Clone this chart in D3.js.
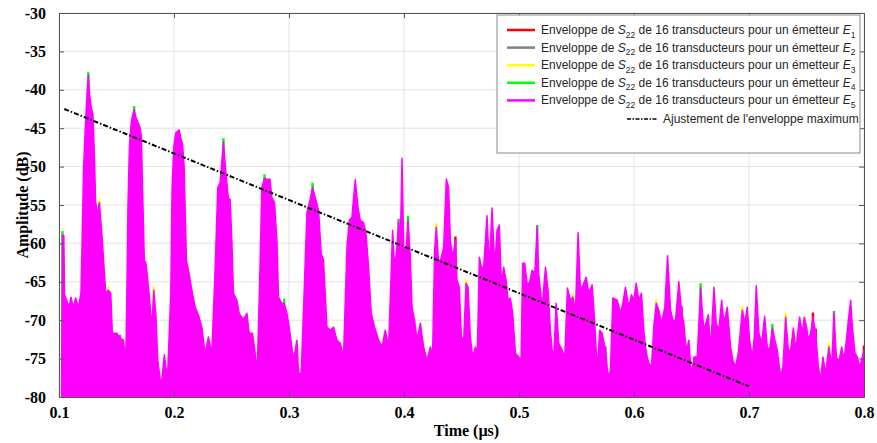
<!DOCTYPE html>
<html><head><meta charset="utf-8">
<script src="https://cdn.jsdelivr.net/npm/d3@7"></script>
<style>body{margin:0;background:#fff}svg{display:block}</style>
</head><body><svg id="c" width="877" height="443"></svg>
<script>
// ---- data ----
const xTicks = [0.1,0.2,0.3,0.4,0.5,0.6,0.7,0.8];
const yTicks = [-80,-75,-70,-65,-60,-55,-50,-45,-40,-35,-30];
// Enveloppe E5 (magenta): [time µs, dB]
const envE5 = [
[0.1022,-80],[0.1030,-58.9],[0.1042,-59.0],[0.1048,-66.7],[0.1067,-67.4],[0.1087,-68.3],[0.1104,-67.0],[0.1124,-68.3],[0.1145,-67.1],[0.1168,-68.3],
[0.1191,-66.5],[0.1200,-60.5],[0.1213,-50.5],[0.1230,-44.5],[0.1245,-40.2],[0.1255,-38.1],[0.1266,-40.6],[0.1280,-42.3],[0.1295,-43.2],[0.1308,-48.5],
[0.1318,-54.5],[0.1332,-56.2],[0.1351,-54.7],[0.1372,-58.6],[0.1386,-61.8],[0.1406,-66.5],[0.1429,-66.1],[0.1450,-66.5],[0.1464,-71.7],[0.1502,-71.7],
[0.1531,-72.3],[0.1560,-72.6],[0.1581,-75.2],[0.1590,-66.5],[0.1600,-55.0],[0.1612,-47.5],[0.1628,-44.3],[0.1642,-43.2],[0.1653,-42.6],[0.1668,-43.5],
[0.1685,-44.2],[0.1703,-44.8],[0.1716,-46.0],[0.1730,-55.0],[0.1742,-62.2],[0.1755,-62.5],[0.1766,-63.9],
[0.1786,-67.0],[0.1807,-70.9],[0.1824,-66.1],[0.1842,-69.1],[0.1859,-75.2],[0.1888,-78.7],[0.1916,-74.5],[0.1943,-77.8],
[0.1972,-66.5],[0.1983,-53.0],[0.1998,-47.5],[0.2015,-45.6],[0.2032,-45.4],[0.2044,-45.2],[0.2058,-46.2],[0.2075,-47.2],[0.2088,-50.0],[0.2098,-56.0],
[0.2108,-62.2],[0.2131,-63.9],[0.2160,-66.5],[0.2184,-68.3],[0.2218,-69.6],[0.2242,-70.9],
[0.2271,-74.3],[0.2299,-72.2],[0.2329,-74.3],[0.2358,-63.1],[0.2381,-52.7],[0.2401,-52.1],[0.2418,-49.0],[0.2430,-46.8],[0.2451,-50.8],[0.2473,-54.1],[0.2488,-54.3],
[0.2503,-59.6],[0.2517,-66.5],[0.2547,-67.4],[0.2567,-69.1],[0.2604,-70.0],[0.2634,-69.1],[0.2654,-71.7],[0.2682,-71.7],[0.2700,-73.5],[0.2723,-76.9],
[0.2743,-66.1],[0.2764,-52.7],[0.2787,-51.5],[0.2813,-51.7],[0.2834,-51.6],[0.2851,-54.0],[0.2874,-54.7],[0.2895,-59.6],[0.2909,-67.0],[0.2938,-67.8],
[0.2958,-67.8],[0.2982,-69.1],[0.3002,-70.9],[0.3039,-75.2],[0.3069,-72.6],[0.3083,-76.9],[0.3106,-76.9],[0.3126,-68.7],[0.3156,-56.0],[0.3184,-54.3],
[0.3205,-52.7],[0.3228,-54.0],[0.3257,-55.7],[0.3280,-61.3],[0.3300,-62.2],[0.3330,-70.9],[0.3359,-71.3],[0.3387,-70.9],[0.3417,-72.6],[0.3446,-73.0],
[0.3474,-74.8],[0.3504,-60.5],[0.3524,-57.0],[0.3547,-56.6],[0.3576,-51.7],[0.3600,-55.3],[0.3620,-57.0],[0.3648,-57.3],[0.3669,-58.6],[0.3692,-63.1],
[0.3715,-69.1],[0.3744,-70.9],[0.3779,-72.6],[0.3808,-73.5],[0.3837,-71.3],[0.3866,-73.5],[0.3881,-67.0],[0.3901,-58.3],[0.3918,-63.1],[0.3936,-60.9],
[0.3953,-57.3],[0.3968,-59.9],[0.3983,-48.9],[0.3997,-60.5],[0.4017,-60.9],[0.4035,-57.0],[0.4055,-61.8],[0.4070,-68.3],[0.4092,-70.0],[0.4113,-72.6],
[0.4142,-70.4],[0.4171,-73.5],[0.4200,-75.2],[0.4229,-73.5],[0.4249,-74.3],[0.4266,-60.9],[0.4281,-57.9],[0.4301,-62.6],[0.4325,-61.8],[0.4345,-60.5],
[0.4368,-51.6],[0.4388,-52.7],[0.4403,-59.6],[0.4423,-61.8],[0.4447,-59.6],[0.4461,-64.8],[0.4481,-65.7],[0.4499,-72.2],[0.4519,-72.6],[0.4540,-65.2],
[0.4557,-65.7],[0.4577,-72.2],[0.4597,-74.8],[0.4621,-73.5],[0.4638,-74.3],[0.4655,-61.8],[0.4673,-63.1],[0.4693,-63.1],[0.4722,-56.4],[0.4742,-63.1],
[0.4766,-55.4],[0.4789,-63.1],[0.4809,-58.3],[0.4829,-57.6],[0.4847,-65.2],[0.4867,-63.1],[0.4888,-64.8],[0.4905,-67.4],[0.4925,-67.1],[0.4945,-69.1],
[0.4969,-74.3],[0.4997,-74.8],[0.5018,-75.2],[0.5032,-62.6],[0.5050,-62.6],[0.5070,-65.2],[0.5090,-65.2],[0.5114,-63.5],[0.5137,-63.9],[0.5158,-58.1],
[0.5171,-63.9],[0.5201,-68.3],[0.5230,-63.1],[0.5253,-66.1],[0.5273,-71.3],[0.5288,-73.9],[0.5302,-74.8],[0.5323,-67.8],[0.5346,-73.0],[0.5375,-73.9],
[0.5398,-74.8],[0.5421,-65.8],[0.5447,-67.4],[0.5467,-67.0],[0.5491,-68.7],[0.5514,-58.6],[0.5534,-66.1],[0.5558,-65.4],[0.5584,-64.4],[0.5607,-66.5],
[0.5636,-65.4],[0.5659,-70.4],[0.5680,-76.5],[0.5702,-71.3],[0.5723,-71.7],[0.5752,-73.9],[0.5775,-77.4],[0.5795,-76.5],[0.5816,-67.1],[0.5854,-67.4],
[0.5883,-69.1],[0.5903,-67.8],[0.5926,-65.7],[0.5955,-68.3],[0.5978,-66.7],[0.5998,-67.4],[0.6019,-65.2],[0.6042,-67.4],[0.6065,-66.5],[0.6085,-71.3],
[0.6106,-74.3],[0.6129,-75.6],[0.6152,-76.1],[0.6172,-70.9],[0.6193,-67.8],[0.6216,-68.7],[0.6239,-70.4],[0.6268,-68.3],[0.6292,-61.6],[0.6318,-68.7],
[0.6338,-70.0],[0.6361,-70.0],[0.6390,-65.0],[0.6413,-68.7],[0.6433,-70.4],[0.6454,-73.9],[0.6477,-72.6],[0.6500,-77.4],[0.6520,-74.8],[0.6550,-74.8],
[0.6579,-65.8],[0.6607,-71.3],[0.6646,-69.3],[0.6666,-73.9],[0.6695,-65.7],[0.6715,-70.4],[0.6738,-71.3],[0.6762,-67.4],[0.6782,-70.4],[0.6811,-68.3],
[0.6840,-73.5],[0.6860,-75.2],[0.6883,-76.1],[0.6907,-74.3],[0.6942,-68.7],[0.6964,-70.4],[0.6985,-68.3],[0.7005,-72.6],[0.7029,-74.8],[0.7046,-72.2],
[0.7063,-65.5],[0.7086,-71.7],[0.7110,-73.0],[0.7136,-69.5],[0.7159,-73.5],[0.7179,-73.9],[0.7203,-71.0],[0.7225,-72.6],[0.7246,-73.9],[0.7275,-77.4],
[0.7295,-76.1],[0.7319,-69.6],[0.7342,-73.9],[0.7362,-73.9],[0.7386,-71.0],[0.7406,-73.9],[0.7440,-69.6],[0.7464,-71.7],[0.7481,-69.6],[0.7501,-70.9],
[0.7516,-72.6],[0.7536,-71.7],[0.7556,-69.6],[0.7580,-71.7],[0.7603,-76.1],[0.7623,-77.8],[0.7643,-74.8],[0.7667,-76.9],[0.7695,-73.5],[0.7719,-76.1],
[0.7739,-69.3],[0.7760,-74.8],[0.7782,-75.4],[0.7806,-73.5],[0.7826,-75.2],[0.7847,-72.6],[0.7864,-70.0],[0.7884,-67.4],[0.7899,-70.9],[0.7922,-74.3],
[0.7942,-74.8],[0.7962,-76.1],[0.7986,-74.8],[0.8000,-73.9]
];
// Peaks of the other emitters that rise above E5: [time µs, dB]
const peaksE1 = [[0.4447,-59.1],[0.6413,-68.2],[0.7556,-69.0],[0.7580,-71.1],[0.8000,-73.3],[0.1888,-78.2]];
const peaksE2 = [[0.3953,-56.8],[0.5158,-57.6],[0.5752,-73.4],[0.7739,-68.8],[0.1531,-71.9]];
const peaksE3 = [[0.1351,-54.2],[0.1429,-65.6],[0.1824,-65.6],[0.4281,-57.4],[0.4540,-64.7],[0.5467,-66.5],[0.6193,-67.3],[0.6942,-68.2],[0.7319,-69.1],[0.7695,-73.0]];
const peaksE4 = [[0.1030,-58.4],[0.1255,-37.7],[0.1653,-42.1],[0.2430,-46.3],[0.2787,-51.0],[0.3205,-52.1],[0.4035,-56.4],[0.2958,-67.2],[0.6579,-65.2],[0.7203,-70.5],[0.1124,-67.8],[0.6106,-73.8],[0.2604,-69.5]];
// Fit of the maximum envelope
const fitLine = [[0.1046,-42.5],[0.6999,-78.6]];

const seriesColors = ["#ff0000","#808080","#ffff00","#00ff00","#ff00ff"];
const emitterIdx = ["1","2","3","4","5"];
const fitLabel = "Ajustement de l'enveloppe maximum";
const xLabel = "Time (\u00b5s)";
const yLabel = "Amplitude (dB)";

// ---- chart ----
const svg = d3.select("#c");
const L = 59, R = 864, T = 13, B = 397;
const x = d3.scaleLinear().domain([0.1,0.8]).range([L,R]);
const y = d3.scaleLinear().domain([-80,-30]).range([B,T]);

svg.append("defs").append("clipPath").attr("id","clip")
  .append("rect").attr("x",L).attr("y",T).attr("width",R-L).attr("height",B-T);

// grid
const grid = svg.append("g").attr("stroke","#e3e3e3").attr("stroke-width",1);
xTicks.forEach(v=>grid.append("line").attr("x1",x(v)).attr("x2",x(v)).attr("y1",T).attr("y2",B));
yTicks.forEach(v=>grid.append("line").attr("y1",y(v)).attr("y2",y(v)).attr("x1",L).attr("x2",R));

const plot = svg.append("g").attr("clip-path","url(#clip)");

// other emitters (underneath)
[[peaksE1,0],[peaksE2,1],[peaksE3,2],[peaksE4,3]].forEach(([arr,i])=>{
  plot.append("g").selectAll("line").data(arr).join("line")
    .attr("x1",d=>x(d[0])).attr("x2",d=>x(d[0]))
    .attr("y1",d=>y(d[1])).attr("y2",y(-80))
    .attr("stroke",seriesColors[i]).attr("stroke-width",2.5);
});

// E5 envelope
const area = d3.area().x(d=>x(d[0])).y0(y(-80)).y1(d=>y(d[1]));
const line = d3.line().x(d=>x(d[0])).y(d=>y(d[1]));
plot.append("path").datum(envE5).attr("d",area).attr("fill","#ff00ff");
plot.append("path").datum(envE5).attr("d",line).attr("fill","none")
  .attr("stroke","#ff00ff").attr("stroke-width",1.5).attr("stroke-linejoin","round");

// fit
plot.append("path").datum(fitLine).attr("d",line).attr("fill","none")
  .attr("stroke","#000").attr("stroke-width",2).attr("stroke-dasharray","5,2,1.5,2");

// axes box
const axC = "#555";
const ax = svg.append("g");
const xa = ax.append("g").attr("transform",`translate(0,${B})`)
  .call(d3.axisBottom(x).tickValues(xTicks).tickFormat(d3.format(".1f")).tickSize(-5).tickPadding(7));
const ya = ax.append("g").attr("transform",`translate(${L},0)`)
  .call(d3.axisLeft(y).tickValues(yTicks).tickFormat(d=>d).tickSize(-5).tickPadding(13));
ax.append("g").attr("transform",`translate(0,${T})`)
  .call(d3.axisTop(x).tickValues(xTicks).tickFormat("").tickSize(-5));
ax.append("g").attr("transform",`translate(${R},0)`)
  .call(d3.axisRight(y).tickValues(yTicks).tickFormat("").tickSize(-5));
ax.selectAll(".domain").attr("stroke",axC);
ax.selectAll(".tick line").attr("stroke",axC);
ax.selectAll(".tick text").attr("fill","#000")
  .style("font-family","'Liberation Serif','Times New Roman',serif").style("font-weight","bold").style("font-size","16px");
xa.selectAll(".tick text").attr("dy","0.9em");

svg.append("text").attr("x",(L+R)/2+5).attr("y",436).attr("text-anchor","middle")
  .style("font-family","'Liberation Serif',serif").style("font-weight","bold").style("font-size","16px").text(xLabel);
svg.append("text").attr("transform",`translate(28,${(T+B)/2}) rotate(-90)`).attr("text-anchor","middle")
  .style("font-family","'Liberation Serif',serif").style("font-weight","bold").style("font-size","16px").text(yLabel);

// legend
const lg = svg.append("g");
lg.append("rect").attr("x",497).attr("y",15).attr("width",363).attr("height",138)
  .attr("fill","#fff").attr("stroke","#8a8a8a").attr("stroke-width",1);
const rowY = [30,47.6,65.2,82.8,100.4];
const fs = "'Liberation Sans',Arial,sans-serif";
emitterIdx.forEach((k,i)=>{
  lg.append("line").attr("x1",507).attr("x2",535).attr("y1",rowY[i]).attr("y2",rowY[i])
    .attr("stroke",seriesColors[i]).attr("stroke-width",2.5);
  const t = lg.append("text").attr("x",541).attr("y",rowY[i]+4)
    .style("font-family",fs).style("font-size","12px").attr("fill","#262626");
  t.append("tspan").text("Enveloppe de ");
  t.append("tspan").style("font-style","italic").text("S");
  t.append("tspan").attr("dy",3.5).style("font-size","8.5px").text("22");
  t.append("tspan").attr("dy",-3.5).text(" de 16 transducteurs pour un \u00e9metteur ");
  t.append("tspan").style("font-style","italic").text("E");
  t.append("tspan").attr("dy",3.5).style("font-size","8.5px").text(k);
});
lg.append("line").attr("x1",627).attr("x2",657).attr("y1",119).attr("y2",119)
  .attr("stroke","#000").attr("stroke-width",1.5).attr("stroke-dasharray","4,1.5,1.5,1.5");
lg.append("text").attr("x",663).attr("y",123).style("font-family",fs).style("font-size","12px")
  .attr("fill","#262626").text(fitLabel);
</script></body></html>
